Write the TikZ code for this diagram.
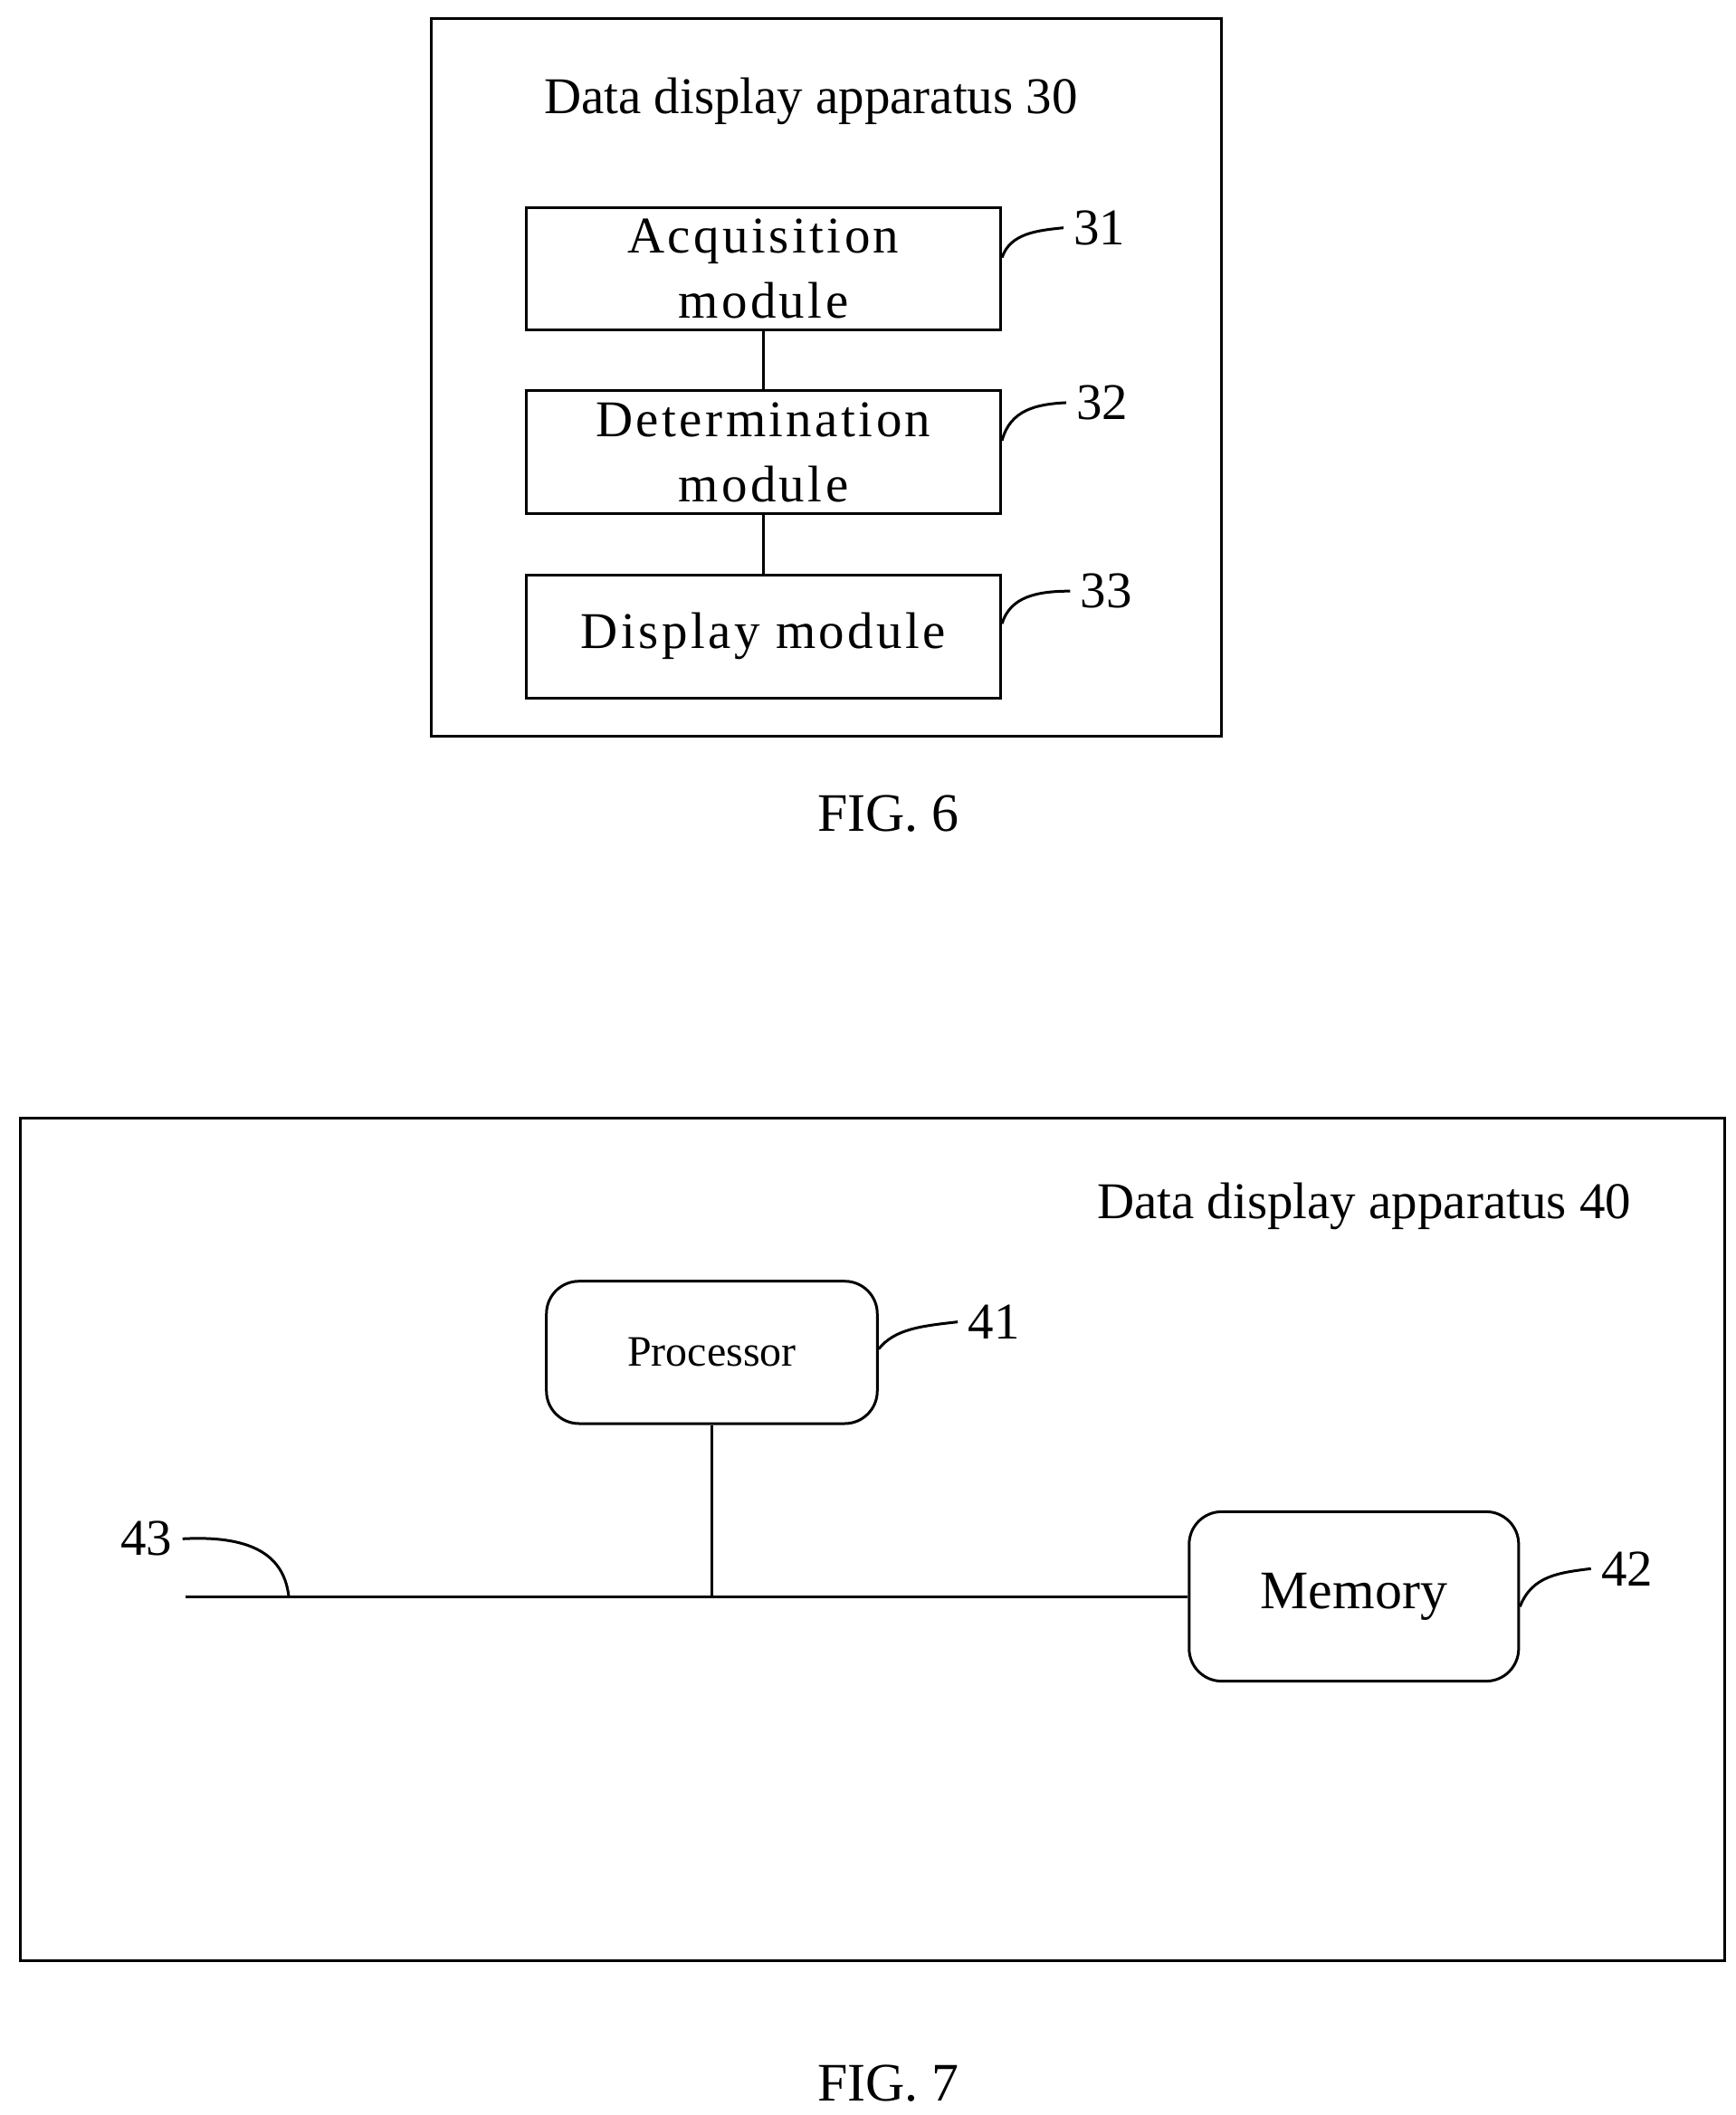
\documentclass[tikz,border=0pt]{standalone}
\usepackage{fontspec}
\setmainfont{Liberation Serif}
\begin{document}
\begin{tikzpicture}[x=0.5pt,y=-0.5pt,line width=1pt,
  box/.style={draw,inner sep=0,align=center},
  t/.style={font=\fontsize{19}{22}\selectfont},
  lbl/.style={font=\fontsize{20}{24}\selectfont}]
\useasboundingbox (0,0) rectangle (1280,1560);
% FIG 6
\node[box,minimum width=583*0.5pt,minimum height=529*0.5pt] (o6) at (609.5,278.5) {};
\node[t] (t6) at (598,75) {Data display apparatus 30};
\node[box,t,minimum width=350*0.5pt,minimum height=90*0.5pt,font=\fontsize{19}{24}\selectfont\addfontfeature{LetterSpace=6}] (m31) at (563,198) {Acquisition\\module};
\node[box,t,minimum width=350*0.5pt,minimum height=91*0.5pt,font=\fontsize{19}{24}\selectfont\addfontfeature{LetterSpace=6}] (m32) at (563,333.5) {Determination\\module};
\node[box,t,minimum width=350*0.5pt,minimum height=91*0.5pt,font=\fontsize{19}{24}\selectfont\addfontfeature{LetterSpace=6}] (m33) at (563,469.5) {Display module};
\draw (m31) -- (m32); \draw (m32) -- (m33);
\node[t] (l31) at (811,168) {31};
\node[t] (l32) at (813,297) {32};
\node[t] (l33) at (816,436) {33};
\draw (m31.east|-0,190) .. controls (745,172) and (765,170) .. (l31.west);
\draw (m32.east|-0,325) .. controls (745,302) and (765,298) .. (l32.west);
\draw (m33.east|-0,460) .. controls (745,440) and (765,436) .. (l33.west);
\node[lbl] (f6) at (655,600) {FIG. 6};
% FIG 7
\node[box,minimum width=1257*0.5pt,minimum height=621*0.5pt] (o7) at (643.5,1135.5) {};
\node[t] (t7) at (1006,890) {Data display apparatus 40};
\node[box,rounded corners=12pt,minimum width=244*0.5pt,minimum height=105*0.5pt,font=\fontsize{16}{20}\selectfont] (p) at (525,997.5) {Processor};
\node[box,rounded corners=12pt,minimum width=243*0.5pt,minimum height=125*0.5pt,font=\fontsize{20}{24}\selectfont] (mem) at (998.5,1177.5) {Memory};
\coordinate (b0) at (137,1178);
\coordinate (bj) at (525,1178);
\draw (b0) -- (mem.west|-b0);
\draw (p) -- (bj);
\node[t] (l41) at (733,975) {41};
\node[t] (l42) at (1200,1157) {42};
\node[t] (l43) at (108,1135) {43};
\draw (p.east|-0,995) .. controls (660,980) and (680,978) .. (l41.west);
\draw (mem.east|-0,1185) .. controls (1130,1162) and (1150,1160) .. (l42.west);
\coordinate (c43) at (213,1178);
\draw (l43.east) .. controls (190,1132) and (210,1150) .. (c43);
\node[lbl] (f7) at (655,1537) {FIG. 7};
\end{tikzpicture}
\end{document}
